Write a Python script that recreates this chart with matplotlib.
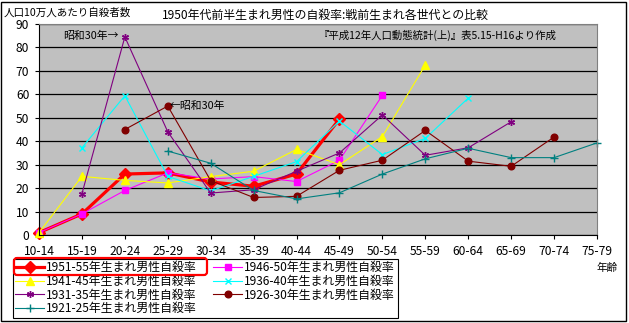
import numpy as np
import matplotlib.pyplot as plt
from matplotlib.patches import FancyBboxPatch, Rectangle

plt.rcParams['font.family'] = ['Noto Sans CJK JP', 'DejaVu Sans']

# age groups
ages = ['10-14', '15-19', '20-24', '25-29', '30-34', '35-39', '40-44',
        '45-49', '50-54', '55-59', '60-64', '65-69', '70-74', '75-79']

# suicide rate per 100k, by birth cohort (None = no data)
s1951 = [1, 9, 26, 26.5, 22.6, 20.8, 26, 49.5]
s1946 = [1, 9, 19, 26.5, 23.9, 24.9, 22.8, 31.9, 59.6]
s1941 = [1, 25, 23.3, 22.2, 24.9, 27.2, 36.5, 30, 42, 72.5]
s1936 = [None, 37.2, 59.4, 25, 18.8, 25, 31.3, 48.6, 34.3, 41.2, 58.4]
s1931 = [None, 17.6, 84.5, 44, 17.9, 19.3, 27.2, 35, 51.2, 34, 37.2, 48.3]
s1926 = [None, None, 45, 55, 23.2, 16, 16.5, 27.6, 31.9, 44.6, 31.5, 29.3, 41.8]
s1921 = [None, None, None, 35.8, 30.6, 19, 15.4, 18, 26, 32.5, 37, 33, 33, 39.3]

labels = ['1951-55年生まれ男性自殺率', '1946-50年生まれ男性自殺率',
          '1941-45年生まれ男性自殺率', '1936-40年生まれ男性自殺率',
          '1931-35年生まれ男性自殺率', '1926-30年生まれ男性自殺率',
          '1921-25年生まれ男性自殺率']

fig = plt.figure(figsize=(6.29, 3.23), dpi=100)
ax = fig.add_axes([39/629, 88/323, 558/629, 211/323])
ax.set_facecolor('#c0c0c0')

def series(vals):
    x = [i for i, v in enumerate(vals) if v is not None]
    y = [v for v in vals if v is not None]
    return x, y

styles = [  # color, marker, markersize, linewidth
    ('#ff0000', 'D', 6, 2.3),
    ('#ff00ff', 's', 4.5, 0.8),
    ('#ffff00', '^', 5.5, 0.8),
    ('#00ffff', 'x', 4, 0.8),
    ('#800080', (6, 2, 0), 5, 0.8),
    ('#800000', 'o', 4.8, 0.8),
    ('#008080', '+', 5.5, 0.8),
]
handles = []
for vals, (c, m, ms, lw), lab in zip([s1951, s1946, s1941, s1936, s1931, s1926, s1921], styles, labels):
    x, y = series(vals)
    h, = ax.plot(x, y, color=c, marker=m, markersize=ms, lw=lw,
                 markeredgecolor=c, markerfacecolor=c, label=lab, clip_on=False)
    handles.append(h)

ax.set_xlim(0, 13)
ax.set_ylim(0, 90)
ax.set_xticks(range(len(ages)))
ax.set_xticklabels(ages, fontsize=8.7)
ax.set_yticks(range(0, 91, 10))
ax.tick_params(axis='y', labelsize=8.7, length=3, width=0.8, pad=4)
ax.tick_params(axis='x', length=3, width=0.8, pad=4)
ax.yaxis.grid(True, color='black', lw=0.9)
ax.set_axisbelow(True)
for s in ['left', 'bottom']:
    ax.spines[s].set_color('black')
for s in ['top', 'right']:
    ax.spines[s].set_color('#808080')

ax.text(1.85, 85, '昭和30年→', ha='right', va='center', fontsize=7.8)
ax.text(3.05, 55, '←昭和30年', ha='left', va='center', fontsize=7.8)
ax.text(9.3, 85, '『平成12年人口動態統計(上)』表5.15-H16より作成',
        ha='center', va='center', fontsize=7.5)

fig.text(0.517, 1 - 15/323, '1950年代前半生まれ男性の自殺率:戦前生まれ各世代との比較',
         ha='center', va='center', fontsize=8.6)
fig.text(4/629, 1 - 12/323, '人口10万人あたり自殺者数', ha='left', va='center', fontsize=7.6)
fig.text(607/629, 1 - 268/323, '年齢', ha='center', va='center', fontsize=7.6)

order = [0, 2, 4, 6, 1, 3, 5]
leg = ax.legend([handles[i] for i in order], [labels[i] for i in order],
                ncol=2, loc='upper left', bbox_to_anchor=(13/629, 1 - 259/323),
                bbox_transform=fig.transFigure, fontsize=8.6, frameon=True,
                fancybox=False, framealpha=1, edgecolor='black',
                borderpad=0.2, labelspacing=0.05, handlelength=2.4,
                handletextpad=0.2, columnspacing=1.35, borderaxespad=0)
leg.get_frame().set_linewidth(0.8)

# red highlight around first legend entry
fig.patches.append(FancyBboxPatch((0.14, (323 - 275)/100), 1.93, 0.17,
                                  boxstyle='round,pad=0,rounding_size=0.03',
                                  transform=fig.dpi_scale_trans, fill=False,
                                  edgecolor='#ff0000', lw=1.6, zorder=10))
# outer border
fig.patches.append(Rectangle((0.01, 0.025), 6.25, 3.19, transform=fig.dpi_scale_trans,
                             fill=False, edgecolor='black', lw=1))

fig.savefig('out.png', dpi=100)
